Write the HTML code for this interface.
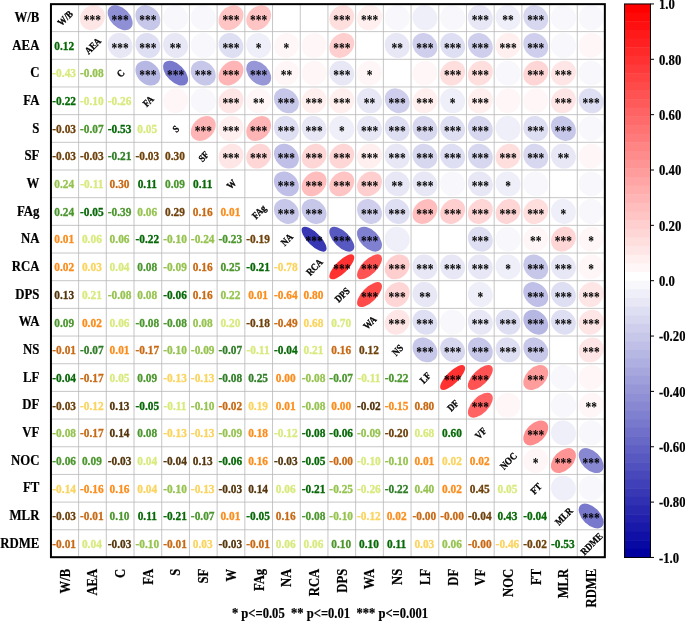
<!DOCTYPE html>
<html><head><meta charset="utf-8"><title>Correlation plot</title>
<style>
html,body{margin:0;padding:0;background:#fff;}
svg{display:block;will-change:transform;}
text{font-family:"Liberation Serif",serif;font-weight:bold;}
.n{font-size:13px;text-anchor:middle;stroke-width:0.3px;}
.s{font-size:14px;text-anchor:middle;fill:#000;}
.d{font-size:10px;text-anchor:middle;fill:#000;stroke:#000;stroke-width:0.3px;}
.yl{font-size:14px;text-anchor:end;fill:#000;stroke:#000;stroke-width:0.2px;}
.xl{font-size:14px;text-anchor:end;fill:#000;stroke:#000;stroke-width:0.2px;}
.cb{font-size:13.7px;text-anchor:start;fill:#000;stroke:#000;stroke-width:0.2px;}
</style></head><body>
<svg width="685" height="621" viewBox="0 0 685 621">
<rect x="0" y="0" width="685" height="621" fill="#fff"/>
<path d="M78.61 3.95V557.45M50.9 31.62H605.0M106.31 3.95V557.45M50.9 59.30H605.0M134.02 3.95V557.45M50.9 86.98H605.0M161.72 3.95V557.45M50.9 114.65H605.0M189.43 3.95V557.45M50.9 142.32H605.0M217.13 3.95V557.45M50.9 170.00H605.0M244.84 3.95V557.45M50.9 197.67H605.0M272.54 3.95V557.45M50.9 225.35H605.0M300.25 3.95V557.45M50.9 253.03H605.0M327.95 3.95V557.45M50.9 280.70H605.0M355.65 3.95V557.45M50.9 308.38H605.0M383.36 3.95V557.45M50.9 336.05H605.0M411.06 3.95V557.45M50.9 363.73H605.0M438.77 3.95V557.45M50.9 391.40H605.0M466.48 3.95V557.45M50.9 419.07H605.0M494.18 3.95V557.45M50.9 446.75H605.0M521.88 3.95V557.45M50.9 474.43H605.0M549.59 3.95V557.45M50.9 502.10H605.0M577.29 3.95V557.45M50.9 529.78H605.0" stroke="#b8b8b8" stroke-width="0.8" fill="none"/>
<ellipse cx="92.46" cy="17.79" rx="13.14" ry="11.72" fill="rgb(255,230,230)" transform="rotate(-45 92.46 17.79)"/>
<text class="s" transform="translate(92.46 24.99) scale(0.82 1)">***</text>
<ellipse cx="120.16" cy="17.79" rx="9.58" ry="14.78" fill="rgb(143,143,213)" transform="rotate(-45 120.16 17.79)"/>
<text class="s" transform="translate(120.16 24.99) scale(0.82 1)">***</text>
<ellipse cx="147.87" cy="17.79" rx="11.07" ry="13.69" fill="rgb(199,199,234)" transform="rotate(-45 147.87 17.79)"/>
<text class="s" transform="translate(147.87 24.99) scale(0.82 1)">***</text>
<ellipse cx="175.57" cy="17.79" rx="12.27" ry="12.63" fill="rgb(247,247,252)" transform="rotate(-45 175.57 17.79)"/>
<ellipse cx="203.28" cy="17.79" rx="12.27" ry="12.63" fill="rgb(247,247,252)" transform="rotate(-45 203.28 17.79)"/>
<ellipse cx="230.98" cy="17.79" rx="13.80" ry="10.94" fill="rgb(255,197,197)" transform="rotate(-45 230.98 17.79)"/>
<text class="s" transform="translate(230.98 24.99) scale(0.82 1)">***</text>
<ellipse cx="258.69" cy="17.79" rx="13.80" ry="10.94" fill="rgb(255,197,197)" transform="rotate(-45 258.69 17.79)"/>
<text class="s" transform="translate(258.69 24.99) scale(0.82 1)">***</text>
<ellipse cx="286.39" cy="17.79" rx="12.51" ry="12.39" fill="rgb(255,255,255)" transform="rotate(-45 286.39 17.79)"/>
<ellipse cx="314.10" cy="17.79" rx="12.57" ry="12.33" fill="rgb(255,255,255)" transform="rotate(-45 314.10 17.79)"/>
<ellipse cx="341.80" cy="17.79" rx="13.20" ry="11.66" fill="rgb(255,222,222)" transform="rotate(-45 341.80 17.79)"/>
<text class="s" transform="translate(341.80 24.99) scale(0.82 1)">***</text>
<ellipse cx="369.51" cy="17.79" rx="12.97" ry="11.91" fill="rgb(255,239,239)" transform="rotate(-45 369.51 17.79)"/>
<text class="s" transform="translate(369.51 24.99) scale(0.82 1)">***</text>
<ellipse cx="397.21" cy="17.79" rx="12.39" ry="12.51" fill="rgb(247,247,252)" transform="rotate(-45 397.21 17.79)"/>
<ellipse cx="424.92" cy="17.79" rx="12.21" ry="12.68" fill="rgb(239,239,249)" transform="rotate(-45 424.92 17.79)"/>
<ellipse cx="452.62" cy="17.79" rx="12.27" ry="12.63" fill="rgb(247,247,252)" transform="rotate(-45 452.62 17.79)"/>
<ellipse cx="480.33" cy="17.79" rx="11.97" ry="12.91" fill="rgb(231,231,246)" transform="rotate(-45 480.33 17.79)"/>
<text class="s" transform="translate(480.33 24.99) scale(0.82 1)">***</text>
<ellipse cx="508.03" cy="17.79" rx="12.09" ry="12.80" fill="rgb(239,239,249)" transform="rotate(-45 508.03 17.79)"/>
<text class="s" transform="translate(508.03 24.99) scale(0.82 1)">**</text>
<ellipse cx="535.74" cy="17.79" rx="11.59" ry="13.25" fill="rgb(215,215,240)" transform="rotate(-45 535.74 17.79)"/>
<text class="s" transform="translate(535.74 24.99) scale(0.82 1)">***</text>
<ellipse cx="563.44" cy="17.79" rx="12.27" ry="12.63" fill="rgb(247,247,252)" transform="rotate(-45 563.44 17.79)"/>
<ellipse cx="591.15" cy="17.79" rx="12.39" ry="12.51" fill="rgb(247,247,252)" transform="rotate(-45 591.15 17.79)"/>
<ellipse cx="120.16" cy="45.46" rx="11.97" ry="12.91" fill="rgb(231,231,246)" transform="rotate(-45 120.16 45.46)"/>
<text class="s" transform="translate(120.16 52.66) scale(0.82 1)">***</text>
<ellipse cx="147.87" cy="45.46" rx="11.84" ry="13.03" fill="rgb(223,223,243)" transform="rotate(-45 147.87 45.46)"/>
<text class="s" transform="translate(147.87 52.66) scale(0.82 1)">***</text>
<ellipse cx="175.57" cy="45.46" rx="12.03" ry="12.86" fill="rgb(231,231,246)" transform="rotate(-45 175.57 45.46)"/>
<text class="s" transform="translate(175.57 52.66) scale(0.82 1)">**</text>
<ellipse cx="203.28" cy="45.46" rx="12.27" ry="12.63" fill="rgb(247,247,252)" transform="rotate(-45 203.28 45.46)"/>
<ellipse cx="230.98" cy="45.46" rx="11.78" ry="13.08" fill="rgb(223,223,243)" transform="rotate(-45 230.98 45.46)"/>
<text class="s" transform="translate(230.98 52.66) scale(0.82 1)">***</text>
<ellipse cx="258.69" cy="45.46" rx="12.15" ry="12.74" fill="rgb(239,239,249)" transform="rotate(-45 258.69 45.46)"/>
<text class="s" transform="translate(258.69 52.66) scale(0.82 1)">*</text>
<ellipse cx="286.39" cy="45.46" rx="12.80" ry="12.09" fill="rgb(255,247,247)" transform="rotate(-45 286.39 45.46)"/>
<text class="s" transform="translate(286.39 52.66) scale(0.82 1)">*</text>
<ellipse cx="314.10" cy="45.46" rx="12.63" ry="12.27" fill="rgb(255,247,247)" transform="rotate(-45 314.10 45.46)"/>
<ellipse cx="341.80" cy="45.46" rx="13.64" ry="11.14" fill="rgb(255,206,206)" transform="rotate(-45 341.80 45.46)"/>
<text class="s" transform="translate(341.80 52.66) scale(0.82 1)">***</text>
<ellipse cx="369.51" cy="45.46" rx="12.57" ry="12.33" fill="rgb(255,255,255)" transform="rotate(-45 369.51 45.46)"/>
<ellipse cx="397.21" cy="45.46" rx="12.03" ry="12.86" fill="rgb(231,231,246)" transform="rotate(-45 397.21 45.46)"/>
<text class="s" transform="translate(397.21 52.66) scale(0.82 1)">**</text>
<ellipse cx="424.92" cy="45.46" rx="11.40" ry="13.42" fill="rgb(207,207,237)" transform="rotate(-45 424.92 45.46)"/>
<text class="s" transform="translate(424.92 52.66) scale(0.82 1)">***</text>
<ellipse cx="452.62" cy="45.46" rx="11.72" ry="13.14" fill="rgb(223,223,243)" transform="rotate(-45 452.62 45.46)"/>
<text class="s" transform="translate(452.62 52.66) scale(0.82 1)">***</text>
<ellipse cx="480.33" cy="45.46" rx="11.40" ry="13.42" fill="rgb(207,207,237)" transform="rotate(-45 480.33 45.46)"/>
<text class="s" transform="translate(480.33 52.66) scale(0.82 1)">***</text>
<ellipse cx="508.03" cy="45.46" rx="12.97" ry="11.91" fill="rgb(255,239,239)" transform="rotate(-45 508.03 45.46)"/>
<text class="s" transform="translate(508.03 52.66) scale(0.82 1)">***</text>
<ellipse cx="535.74" cy="45.46" rx="11.46" ry="13.36" fill="rgb(207,207,237)" transform="rotate(-45 535.74 45.46)"/>
<text class="s" transform="translate(535.74 52.66) scale(0.82 1)">***</text>
<ellipse cx="563.44" cy="45.46" rx="12.39" ry="12.51" fill="rgb(247,247,252)" transform="rotate(-45 563.44 45.46)"/>
<ellipse cx="591.15" cy="45.46" rx="12.68" ry="12.21" fill="rgb(255,247,247)" transform="rotate(-45 591.15 45.46)"/>
<ellipse cx="147.87" cy="73.14" rx="10.80" ry="13.90" fill="rgb(183,183,228)" transform="rotate(-45 147.87 73.14)"/>
<text class="s" transform="translate(147.87 80.34) scale(0.82 1)">***</text>
<ellipse cx="175.57" cy="73.14" rx="8.77" ry="15.27" fill="rgb(120,120,205)" transform="rotate(-45 175.57 73.14)"/>
<text class="s" transform="translate(175.57 80.34) scale(0.82 1)">***</text>
<ellipse cx="203.28" cy="73.14" rx="11.14" ry="13.64" fill="rgb(199,199,234)" transform="rotate(-45 203.28 73.14)"/>
<text class="s" transform="translate(203.28 80.34) scale(0.82 1)">***</text>
<ellipse cx="230.98" cy="73.14" rx="14.11" ry="10.53" fill="rgb(255,181,181)" transform="rotate(-45 230.98 73.14)"/>
<text class="s" transform="translate(230.98 80.34) scale(0.82 1)">***</text>
<ellipse cx="258.69" cy="73.14" rx="9.88" ry="14.58" fill="rgb(151,151,216)" transform="rotate(-45 258.69 73.14)"/>
<text class="s" transform="translate(258.69 80.34) scale(0.82 1)">***</text>
<ellipse cx="286.39" cy="73.14" rx="12.80" ry="12.09" fill="rgb(255,247,247)" transform="rotate(-45 286.39 73.14)"/>
<text class="s" transform="translate(286.39 80.34) scale(0.82 1)">**</text>
<ellipse cx="314.10" cy="73.14" rx="12.68" ry="12.21" fill="rgb(255,247,247)" transform="rotate(-45 314.10 73.14)"/>
<ellipse cx="341.80" cy="73.14" rx="11.97" ry="12.91" fill="rgb(231,231,246)" transform="rotate(-45 341.80 73.14)"/>
<text class="s" transform="translate(341.80 80.34) scale(0.82 1)">***</text>
<ellipse cx="369.51" cy="73.14" rx="12.80" ry="12.09" fill="rgb(255,247,247)" transform="rotate(-45 369.51 73.14)"/>
<text class="s" transform="translate(369.51 80.34) scale(0.82 1)">*</text>
<ellipse cx="397.21" cy="73.14" rx="12.51" ry="12.39" fill="rgb(255,255,255)" transform="rotate(-45 397.21 73.14)"/>
<ellipse cx="424.92" cy="73.14" rx="12.74" ry="12.15" fill="rgb(255,247,247)" transform="rotate(-45 424.92 73.14)"/>
<ellipse cx="452.62" cy="73.14" rx="13.20" ry="11.66" fill="rgb(255,222,222)" transform="rotate(-45 452.62 73.14)"/>
<text class="s" transform="translate(452.62 80.34) scale(0.82 1)">***</text>
<ellipse cx="480.33" cy="73.14" rx="13.25" ry="11.59" fill="rgb(255,222,222)" transform="rotate(-45 480.33 73.14)"/>
<text class="s" transform="translate(480.33 80.34) scale(0.82 1)">***</text>
<ellipse cx="508.03" cy="73.14" rx="12.27" ry="12.63" fill="rgb(247,247,252)" transform="rotate(-45 508.03 73.14)"/>
<ellipse cx="535.74" cy="73.14" rx="13.36" ry="11.46" fill="rgb(255,214,214)" transform="rotate(-45 535.74 73.14)"/>
<text class="s" transform="translate(535.74 80.34) scale(0.82 1)">***</text>
<ellipse cx="563.44" cy="73.14" rx="13.03" ry="11.84" fill="rgb(255,230,230)" transform="rotate(-45 563.44 73.14)"/>
<text class="s" transform="translate(563.44 80.34) scale(0.82 1)">***</text>
<ellipse cx="591.15" cy="73.14" rx="12.27" ry="12.63" fill="rgb(247,247,252)" transform="rotate(-45 591.15 73.14)"/>
<ellipse cx="175.57" cy="100.81" rx="12.74" ry="12.15" fill="rgb(255,247,247)" transform="rotate(-45 175.57 100.81)"/>
<ellipse cx="203.28" cy="100.81" rx="12.27" ry="12.63" fill="rgb(247,247,252)" transform="rotate(-45 203.28 100.81)"/>
<ellipse cx="230.98" cy="100.81" rx="13.08" ry="11.78" fill="rgb(255,230,230)" transform="rotate(-45 230.98 100.81)"/>
<text class="s" transform="translate(230.98 108.01) scale(0.82 1)">***</text>
<ellipse cx="258.69" cy="100.81" rx="12.80" ry="12.09" fill="rgb(255,247,247)" transform="rotate(-45 258.69 100.81)"/>
<text class="s" transform="translate(258.69 108.01) scale(0.82 1)">**</text>
<ellipse cx="286.39" cy="100.81" rx="11.07" ry="13.69" fill="rgb(199,199,234)" transform="rotate(-45 286.39 100.81)"/>
<text class="s" transform="translate(286.39 108.01) scale(0.82 1)">***</text>
<ellipse cx="314.10" cy="100.81" rx="12.91" ry="11.97" fill="rgb(255,239,239)" transform="rotate(-45 314.10 100.81)"/>
<text class="s" transform="translate(314.10 108.01) scale(0.82 1)">***</text>
<ellipse cx="341.80" cy="100.81" rx="12.91" ry="11.97" fill="rgb(255,239,239)" transform="rotate(-45 341.80 100.81)"/>
<text class="s" transform="translate(341.80 108.01) scale(0.82 1)">***</text>
<ellipse cx="369.51" cy="100.81" rx="11.97" ry="12.91" fill="rgb(231,231,246)" transform="rotate(-45 369.51 100.81)"/>
<text class="s" transform="translate(369.51 108.01) scale(0.82 1)">**</text>
<ellipse cx="397.21" cy="100.81" rx="11.40" ry="13.42" fill="rgb(207,207,237)" transform="rotate(-45 397.21 100.81)"/>
<text class="s" transform="translate(397.21 108.01) scale(0.82 1)">***</text>
<ellipse cx="424.92" cy="100.81" rx="12.97" ry="11.91" fill="rgb(255,239,239)" transform="rotate(-45 424.92 100.81)"/>
<text class="s" transform="translate(424.92 108.01) scale(0.82 1)">***</text>
<ellipse cx="452.62" cy="100.81" rx="12.15" ry="12.74" fill="rgb(239,239,249)" transform="rotate(-45 452.62 100.81)"/>
<text class="s" transform="translate(452.62 108.01) scale(0.82 1)">*</text>
<ellipse cx="480.33" cy="100.81" rx="12.91" ry="11.97" fill="rgb(255,239,239)" transform="rotate(-45 480.33 100.81)"/>
<text class="s" transform="translate(480.33 108.01) scale(0.82 1)">***</text>
<ellipse cx="508.03" cy="100.81" rx="12.68" ry="12.21" fill="rgb(255,247,247)" transform="rotate(-45 508.03 100.81)"/>
<ellipse cx="535.74" cy="100.81" rx="12.68" ry="12.21" fill="rgb(255,247,247)" transform="rotate(-45 535.74 100.81)"/>
<ellipse cx="563.44" cy="100.81" rx="13.08" ry="11.78" fill="rgb(255,230,230)" transform="rotate(-45 563.44 100.81)"/>
<text class="s" transform="translate(563.44 108.01) scale(0.82 1)">***</text>
<ellipse cx="591.15" cy="100.81" rx="11.84" ry="13.03" fill="rgb(223,223,243)" transform="rotate(-45 591.15 100.81)"/>
<text class="s" transform="translate(591.15 108.01) scale(0.82 1)">***</text>
<ellipse cx="203.28" cy="128.49" rx="14.11" ry="10.53" fill="rgb(255,181,181)" transform="rotate(-45 203.28 128.49)"/>
<text class="s" transform="translate(203.28 135.69) scale(0.82 1)">***</text>
<ellipse cx="230.98" cy="128.49" rx="12.97" ry="11.91" fill="rgb(255,239,239)" transform="rotate(-45 230.98 128.49)"/>
<text class="s" transform="translate(230.98 135.69) scale(0.82 1)">***</text>
<ellipse cx="258.69" cy="128.49" rx="14.06" ry="10.60" fill="rgb(255,181,181)" transform="rotate(-45 258.69 128.49)"/>
<text class="s" transform="translate(258.69 135.69) scale(0.82 1)">***</text>
<ellipse cx="286.39" cy="128.49" rx="11.84" ry="13.03" fill="rgb(223,223,243)" transform="rotate(-45 286.39 128.49)"/>
<text class="s" transform="translate(286.39 135.69) scale(0.82 1)">***</text>
<ellipse cx="314.10" cy="128.49" rx="11.91" ry="12.97" fill="rgb(231,231,246)" transform="rotate(-45 314.10 128.49)"/>
<text class="s" transform="translate(314.10 135.69) scale(0.82 1)">***</text>
<ellipse cx="341.80" cy="128.49" rx="12.09" ry="12.80" fill="rgb(239,239,249)" transform="rotate(-45 341.80 128.49)"/>
<text class="s" transform="translate(341.80 135.69) scale(0.82 1)">*</text>
<ellipse cx="369.51" cy="128.49" rx="11.97" ry="12.91" fill="rgb(231,231,246)" transform="rotate(-45 369.51 128.49)"/>
<text class="s" transform="translate(369.51 135.69) scale(0.82 1)">***</text>
<ellipse cx="397.21" cy="128.49" rx="11.84" ry="13.03" fill="rgb(223,223,243)" transform="rotate(-45 397.21 128.49)"/>
<text class="s" transform="translate(397.21 135.69) scale(0.82 1)">***</text>
<ellipse cx="424.92" cy="128.49" rx="11.66" ry="13.20" fill="rgb(215,215,240)" transform="rotate(-45 424.92 128.49)"/>
<text class="s" transform="translate(424.92 135.69) scale(0.82 1)">***</text>
<ellipse cx="452.62" cy="128.49" rx="11.78" ry="13.08" fill="rgb(223,223,243)" transform="rotate(-45 452.62 128.49)"/>
<text class="s" transform="translate(452.62 135.69) scale(0.82 1)">***</text>
<ellipse cx="480.33" cy="128.49" rx="11.66" ry="13.20" fill="rgb(215,215,240)" transform="rotate(-45 480.33 128.49)"/>
<text class="s" transform="translate(480.33 135.69) scale(0.82 1)">***</text>
<ellipse cx="508.03" cy="128.49" rx="12.21" ry="12.68" fill="rgb(239,239,249)" transform="rotate(-45 508.03 128.49)"/>
<ellipse cx="535.74" cy="128.49" rx="11.84" ry="13.03" fill="rgb(223,223,243)" transform="rotate(-45 535.74 128.49)"/>
<text class="s" transform="translate(535.74 135.69) scale(0.82 1)">***</text>
<ellipse cx="563.44" cy="128.49" rx="11.14" ry="13.64" fill="rgb(199,199,234)" transform="rotate(-45 563.44 128.49)"/>
<text class="s" transform="translate(563.44 135.69) scale(0.82 1)">***</text>
<ellipse cx="591.15" cy="128.49" rx="12.39" ry="12.51" fill="rgb(247,247,252)" transform="rotate(-45 591.15 128.49)"/>
<ellipse cx="230.98" cy="156.16" rx="13.08" ry="11.78" fill="rgb(255,230,230)" transform="rotate(-45 230.98 156.16)"/>
<text class="s" transform="translate(230.98 163.36) scale(0.82 1)">***</text>
<ellipse cx="258.69" cy="156.16" rx="13.36" ry="11.46" fill="rgb(255,214,214)" transform="rotate(-45 258.69 156.16)"/>
<text class="s" transform="translate(258.69 163.36) scale(0.82 1)">***</text>
<ellipse cx="286.39" cy="156.16" rx="10.94" ry="13.80" fill="rgb(191,191,231)" transform="rotate(-45 286.39 156.16)"/>
<text class="s" transform="translate(286.39 163.36) scale(0.82 1)">***</text>
<ellipse cx="314.10" cy="156.16" rx="13.36" ry="11.46" fill="rgb(255,214,214)" transform="rotate(-45 314.10 156.16)"/>
<text class="s" transform="translate(314.10 163.36) scale(0.82 1)">***</text>
<ellipse cx="341.80" cy="156.16" rx="13.36" ry="11.46" fill="rgb(255,214,214)" transform="rotate(-45 341.80 156.16)"/>
<text class="s" transform="translate(341.80 163.36) scale(0.82 1)">***</text>
<ellipse cx="369.51" cy="156.16" rx="12.91" ry="11.97" fill="rgb(255,239,239)" transform="rotate(-45 369.51 156.16)"/>
<text class="s" transform="translate(369.51 163.36) scale(0.82 1)">***</text>
<ellipse cx="397.21" cy="156.16" rx="11.91" ry="12.97" fill="rgb(231,231,246)" transform="rotate(-45 397.21 156.16)"/>
<text class="s" transform="translate(397.21 163.36) scale(0.82 1)">***</text>
<ellipse cx="424.92" cy="156.16" rx="11.66" ry="13.20" fill="rgb(215,215,240)" transform="rotate(-45 424.92 156.16)"/>
<text class="s" transform="translate(424.92 163.36) scale(0.82 1)">***</text>
<ellipse cx="452.62" cy="156.16" rx="11.84" ry="13.03" fill="rgb(223,223,243)" transform="rotate(-45 452.62 156.16)"/>
<text class="s" transform="translate(452.62 163.36) scale(0.82 1)">***</text>
<ellipse cx="480.33" cy="156.16" rx="11.66" ry="13.20" fill="rgb(215,215,240)" transform="rotate(-45 480.33 156.16)"/>
<text class="s" transform="translate(480.33 163.36) scale(0.82 1)">***</text>
<ellipse cx="508.03" cy="156.16" rx="13.20" ry="11.66" fill="rgb(255,222,222)" transform="rotate(-45 508.03 156.16)"/>
<text class="s" transform="translate(508.03 163.36) scale(0.82 1)">***</text>
<ellipse cx="535.74" cy="156.16" rx="11.66" ry="13.20" fill="rgb(215,215,240)" transform="rotate(-45 535.74 156.16)"/>
<text class="s" transform="translate(535.74 163.36) scale(0.82 1)">***</text>
<ellipse cx="563.44" cy="156.16" rx="12.03" ry="12.86" fill="rgb(231,231,246)" transform="rotate(-45 563.44 156.16)"/>
<text class="s" transform="translate(563.44 163.36) scale(0.82 1)">**</text>
<ellipse cx="591.15" cy="156.16" rx="12.63" ry="12.27" fill="rgb(255,247,247)" transform="rotate(-45 591.15 156.16)"/>
<ellipse cx="258.69" cy="183.84" rx="12.51" ry="12.39" fill="rgb(255,255,255)" transform="rotate(-45 258.69 183.84)"/>
<ellipse cx="286.39" cy="183.84" rx="11.01" ry="13.74" fill="rgb(191,191,231)" transform="rotate(-45 286.39 183.84)"/>
<text class="s" transform="translate(286.39 191.04) scale(0.82 1)">***</text>
<ellipse cx="314.10" cy="183.84" rx="13.85" ry="10.87" fill="rgb(255,189,189)" transform="rotate(-45 314.10 183.84)"/>
<text class="s" transform="translate(314.10 191.04) scale(0.82 1)">***</text>
<ellipse cx="341.80" cy="183.84" rx="13.69" ry="11.07" fill="rgb(255,197,197)" transform="rotate(-45 341.80 183.84)"/>
<text class="s" transform="translate(341.80 191.04) scale(0.82 1)">***</text>
<ellipse cx="369.51" cy="183.84" rx="13.58" ry="11.21" fill="rgb(255,206,206)" transform="rotate(-45 369.51 183.84)"/>
<text class="s" transform="translate(369.51 191.04) scale(0.82 1)">***</text>
<ellipse cx="397.21" cy="183.84" rx="12.03" ry="12.86" fill="rgb(231,231,246)" transform="rotate(-45 397.21 183.84)"/>
<text class="s" transform="translate(397.21 191.04) scale(0.82 1)">**</text>
<ellipse cx="424.92" cy="183.84" rx="11.97" ry="12.91" fill="rgb(231,231,246)" transform="rotate(-45 424.92 183.84)"/>
<text class="s" transform="translate(424.92 191.04) scale(0.82 1)">***</text>
<ellipse cx="452.62" cy="183.84" rx="12.33" ry="12.57" fill="rgb(247,247,252)" transform="rotate(-45 452.62 183.84)"/>
<ellipse cx="480.33" cy="183.84" rx="11.91" ry="12.97" fill="rgb(231,231,246)" transform="rotate(-45 480.33 183.84)"/>
<text class="s" transform="translate(480.33 191.04) scale(0.82 1)">***</text>
<ellipse cx="508.03" cy="183.84" rx="12.09" ry="12.80" fill="rgb(239,239,249)" transform="rotate(-45 508.03 183.84)"/>
<text class="s" transform="translate(508.03 191.04) scale(0.82 1)">*</text>
<ellipse cx="535.74" cy="183.84" rx="12.27" ry="12.63" fill="rgb(247,247,252)" transform="rotate(-45 535.74 183.84)"/>
<ellipse cx="563.44" cy="183.84" rx="12.51" ry="12.39" fill="rgb(255,255,255)" transform="rotate(-45 563.44 183.84)"/>
<ellipse cx="591.15" cy="183.84" rx="12.27" ry="12.63" fill="rgb(247,247,252)" transform="rotate(-45 591.15 183.84)"/>
<ellipse cx="286.39" cy="211.51" rx="11.27" ry="13.53" fill="rgb(199,199,234)" transform="rotate(-45 286.39 211.51)"/>
<text class="s" transform="translate(286.39 218.71) scale(0.82 1)">***</text>
<ellipse cx="314.10" cy="211.51" rx="11.14" ry="13.64" fill="rgb(199,199,234)" transform="rotate(-45 314.10 211.51)"/>
<text class="s" transform="translate(314.10 218.71) scale(0.82 1)">***</text>
<ellipse cx="341.80" cy="211.51" rx="12.51" ry="12.39" fill="rgb(255,255,255)" transform="rotate(-45 341.80 211.51)"/>
<ellipse cx="369.51" cy="211.51" rx="11.34" ry="13.47" fill="rgb(207,207,237)" transform="rotate(-45 369.51 211.51)"/>
<text class="s" transform="translate(369.51 218.71) scale(0.82 1)">***</text>
<ellipse cx="397.21" cy="211.51" rx="11.78" ry="13.08" fill="rgb(223,223,243)" transform="rotate(-45 397.21 211.51)"/>
<text class="s" transform="translate(397.21 218.71) scale(0.82 1)">***</text>
<ellipse cx="424.92" cy="211.51" rx="13.85" ry="10.87" fill="rgb(255,189,189)" transform="rotate(-45 424.92 211.51)"/>
<text class="s" transform="translate(424.92 218.71) scale(0.82 1)">***</text>
<ellipse cx="452.62" cy="211.51" rx="13.53" ry="11.27" fill="rgb(255,206,206)" transform="rotate(-45 452.62 211.51)"/>
<text class="s" transform="translate(452.62 218.71) scale(0.82 1)">***</text>
<ellipse cx="480.33" cy="211.51" rx="13.47" ry="11.34" fill="rgb(255,214,214)" transform="rotate(-45 480.33 211.51)"/>
<text class="s" transform="translate(480.33 218.71) scale(0.82 1)">***</text>
<ellipse cx="508.03" cy="211.51" rx="13.36" ry="11.46" fill="rgb(255,214,214)" transform="rotate(-45 508.03 211.51)"/>
<text class="s" transform="translate(508.03 218.71) scale(0.82 1)">***</text>
<ellipse cx="535.74" cy="211.51" rx="13.25" ry="11.59" fill="rgb(255,222,222)" transform="rotate(-45 535.74 211.51)"/>
<text class="s" transform="translate(535.74 218.71) scale(0.82 1)">***</text>
<ellipse cx="563.44" cy="211.51" rx="12.15" ry="12.74" fill="rgb(239,239,249)" transform="rotate(-45 563.44 211.51)"/>
<text class="s" transform="translate(563.44 218.71) scale(0.82 1)">*</text>
<ellipse cx="591.15" cy="211.51" rx="12.39" ry="12.51" fill="rgb(247,247,252)" transform="rotate(-45 591.15 211.51)"/>
<ellipse cx="314.10" cy="239.19" rx="6.34" ry="16.43" fill="rgb(56,56,181)" transform="rotate(-45 314.10 239.19)"/>
<text class="s" transform="translate(314.10 246.39) scale(0.82 1)">***</text>
<ellipse cx="341.80" cy="239.19" rx="7.79" ry="15.79" fill="rgb(88,88,193)" transform="rotate(-45 341.80 239.19)"/>
<text class="s" transform="translate(341.80 246.39) scale(0.82 1)">***</text>
<ellipse cx="369.51" cy="239.19" rx="9.10" ry="15.07" fill="rgb(128,128,208)" transform="rotate(-45 369.51 239.19)"/>
<text class="s" transform="translate(369.51 246.39) scale(0.82 1)">***</text>
<ellipse cx="397.21" cy="239.19" rx="12.21" ry="12.68" fill="rgb(239,239,249)" transform="rotate(-45 397.21 239.19)"/>
<ellipse cx="424.92" cy="239.19" rx="12.45" ry="12.45" fill="rgb(255,255,255)" transform="rotate(-45 424.92 239.19)"/>
<ellipse cx="452.62" cy="239.19" rx="12.51" ry="12.39" fill="rgb(255,255,255)" transform="rotate(-45 452.62 239.19)"/>
<ellipse cx="480.33" cy="239.19" rx="11.72" ry="13.14" fill="rgb(223,223,243)" transform="rotate(-45 480.33 239.19)"/>
<text class="s" transform="translate(480.33 246.39) scale(0.82 1)">***</text>
<ellipse cx="508.03" cy="239.19" rx="12.27" ry="12.63" fill="rgb(247,247,252)" transform="rotate(-45 508.03 239.19)"/>
<ellipse cx="535.74" cy="239.19" rx="12.80" ry="12.09" fill="rgb(255,247,247)" transform="rotate(-45 535.74 239.19)"/>
<text class="s" transform="translate(535.74 246.39) scale(0.82 1)">**</text>
<ellipse cx="563.44" cy="239.19" rx="13.36" ry="11.46" fill="rgb(255,214,214)" transform="rotate(-45 563.44 239.19)"/>
<text class="s" transform="translate(563.44 246.39) scale(0.82 1)">***</text>
<ellipse cx="591.15" cy="239.19" rx="12.80" ry="12.09" fill="rgb(255,247,247)" transform="rotate(-45 591.15 239.19)"/>
<text class="s" transform="translate(591.15 246.39) scale(0.82 1)">*</text>
<ellipse cx="341.80" cy="266.86" rx="16.52" ry="6.10" fill="rgb(255,49,49)" transform="rotate(-45 341.80 266.86)"/>
<text class="s" transform="translate(341.80 274.06) scale(0.82 1)">***</text>
<ellipse cx="369.51" cy="266.86" rx="15.97" ry="7.41" fill="rgb(255,82,82)" transform="rotate(-45 369.51 266.86)"/>
<text class="s" transform="translate(369.51 274.06) scale(0.82 1)">***</text>
<ellipse cx="397.21" cy="266.86" rx="13.64" ry="11.14" fill="rgb(255,206,206)" transform="rotate(-45 397.21 266.86)"/>
<text class="s" transform="translate(397.21 274.06) scale(0.82 1)">***</text>
<ellipse cx="424.92" cy="266.86" rx="11.97" ry="12.91" fill="rgb(231,231,246)" transform="rotate(-45 424.92 266.86)"/>
<text class="s" transform="translate(424.92 274.06) scale(0.82 1)">***</text>
<ellipse cx="452.62" cy="266.86" rx="11.97" ry="12.91" fill="rgb(231,231,246)" transform="rotate(-45 452.62 266.86)"/>
<text class="s" transform="translate(452.62 274.06) scale(0.82 1)">***</text>
<ellipse cx="480.33" cy="266.86" rx="11.97" ry="12.91" fill="rgb(231,231,246)" transform="rotate(-45 480.33 266.86)"/>
<text class="s" transform="translate(480.33 274.06) scale(0.82 1)">***</text>
<ellipse cx="508.03" cy="266.86" rx="12.15" ry="12.74" fill="rgb(239,239,249)" transform="rotate(-45 508.03 266.86)"/>
<text class="s" transform="translate(508.03 274.06) scale(0.82 1)">*</text>
<ellipse cx="535.74" cy="266.86" rx="11.14" ry="13.64" fill="rgb(199,199,234)" transform="rotate(-45 535.74 266.86)"/>
<text class="s" transform="translate(535.74 274.06) scale(0.82 1)">***</text>
<ellipse cx="563.44" cy="266.86" rx="11.97" ry="12.91" fill="rgb(231,231,246)" transform="rotate(-45 563.44 266.86)"/>
<text class="s" transform="translate(563.44 274.06) scale(0.82 1)">***</text>
<ellipse cx="591.15" cy="266.86" rx="12.80" ry="12.09" fill="rgb(255,247,247)" transform="rotate(-45 591.15 266.86)"/>
<text class="s" transform="translate(591.15 274.06) scale(0.82 1)">*</text>
<ellipse cx="369.51" cy="294.54" rx="16.06" ry="7.21" fill="rgb(255,74,74)" transform="rotate(-45 369.51 294.54)"/>
<text class="s" transform="translate(369.51 301.74) scale(0.82 1)">***</text>
<ellipse cx="397.21" cy="294.54" rx="13.36" ry="11.46" fill="rgb(255,214,214)" transform="rotate(-45 397.21 294.54)"/>
<text class="s" transform="translate(397.21 301.74) scale(0.82 1)">***</text>
<ellipse cx="424.92" cy="294.54" rx="12.03" ry="12.86" fill="rgb(231,231,246)" transform="rotate(-45 424.92 294.54)"/>
<text class="s" transform="translate(424.92 301.74) scale(0.82 1)">**</text>
<ellipse cx="452.62" cy="294.54" rx="12.45" ry="12.45" fill="rgb(255,255,255)" transform="rotate(-45 452.62 294.54)"/>
<ellipse cx="480.33" cy="294.54" rx="12.09" ry="12.80" fill="rgb(239,239,249)" transform="rotate(-45 480.33 294.54)"/>
<text class="s" transform="translate(480.33 301.74) scale(0.82 1)">*</text>
<ellipse cx="508.03" cy="294.54" rx="12.45" ry="12.45" fill="rgb(255,255,255)" transform="rotate(-45 508.03 294.54)"/>
<ellipse cx="535.74" cy="294.54" rx="10.87" ry="13.85" fill="rgb(191,191,231)" transform="rotate(-45 535.74 294.54)"/>
<text class="s" transform="translate(535.74 301.74) scale(0.82 1)">***</text>
<ellipse cx="563.44" cy="294.54" rx="11.84" ry="13.03" fill="rgb(223,223,243)" transform="rotate(-45 563.44 294.54)"/>
<text class="s" transform="translate(563.44 301.74) scale(0.82 1)">***</text>
<ellipse cx="591.15" cy="294.54" rx="13.03" ry="11.84" fill="rgb(255,230,230)" transform="rotate(-45 591.15 294.54)"/>
<text class="s" transform="translate(591.15 301.74) scale(0.82 1)">***</text>
<ellipse cx="397.21" cy="322.21" rx="13.14" ry="11.72" fill="rgb(255,230,230)" transform="rotate(-45 397.21 322.21)"/>
<text class="s" transform="translate(397.21 329.41) scale(0.82 1)">***</text>
<ellipse cx="424.92" cy="322.21" rx="11.78" ry="13.08" fill="rgb(223,223,243)" transform="rotate(-45 424.92 322.21)"/>
<text class="s" transform="translate(424.92 329.41) scale(0.82 1)">***</text>
<ellipse cx="452.62" cy="322.21" rx="12.33" ry="12.57" fill="rgb(247,247,252)" transform="rotate(-45 452.62 322.21)"/>
<ellipse cx="480.33" cy="322.21" rx="11.91" ry="12.97" fill="rgb(231,231,246)" transform="rotate(-45 480.33 322.21)"/>
<text class="s" transform="translate(480.33 329.41) scale(0.82 1)">***</text>
<ellipse cx="508.03" cy="322.21" rx="11.84" ry="13.03" fill="rgb(223,223,243)" transform="rotate(-45 508.03 322.21)"/>
<text class="s" transform="translate(508.03 329.41) scale(0.82 1)">***</text>
<ellipse cx="535.74" cy="322.21" rx="10.80" ry="13.90" fill="rgb(183,183,228)" transform="rotate(-45 535.74 322.21)"/>
<text class="s" transform="translate(535.74 329.41) scale(0.82 1)">***</text>
<ellipse cx="563.44" cy="322.21" rx="11.72" ry="13.14" fill="rgb(223,223,243)" transform="rotate(-45 563.44 322.21)"/>
<text class="s" transform="translate(563.44 329.41) scale(0.82 1)">***</text>
<ellipse cx="591.15" cy="322.21" rx="13.03" ry="11.84" fill="rgb(255,230,230)" transform="rotate(-45 591.15 322.21)"/>
<text class="s" transform="translate(591.15 329.41) scale(0.82 1)">***</text>
<ellipse cx="424.92" cy="349.89" rx="11.07" ry="13.69" fill="rgb(199,199,234)" transform="rotate(-45 424.92 349.89)"/>
<text class="s" transform="translate(424.92 357.09) scale(0.82 1)">***</text>
<ellipse cx="452.62" cy="349.89" rx="11.53" ry="13.31" fill="rgb(215,215,240)" transform="rotate(-45 452.62 349.89)"/>
<text class="s" transform="translate(452.62 357.09) scale(0.82 1)">***</text>
<ellipse cx="480.33" cy="349.89" rx="11.21" ry="13.58" fill="rgb(199,199,234)" transform="rotate(-45 480.33 349.89)"/>
<text class="s" transform="translate(480.33 357.09) scale(0.82 1)">***</text>
<ellipse cx="508.03" cy="349.89" rx="11.84" ry="13.03" fill="rgb(223,223,243)" transform="rotate(-45 508.03 349.89)"/>
<text class="s" transform="translate(508.03 357.09) scale(0.82 1)">***</text>
<ellipse cx="535.74" cy="349.89" rx="11.07" ry="13.69" fill="rgb(199,199,234)" transform="rotate(-45 535.74 349.89)"/>
<text class="s" transform="translate(535.74 357.09) scale(0.82 1)">***</text>
<ellipse cx="563.44" cy="349.89" rx="12.57" ry="12.33" fill="rgb(255,255,255)" transform="rotate(-45 563.44 349.89)"/>
<ellipse cx="591.15" cy="349.89" rx="13.08" ry="11.78" fill="rgb(255,230,230)" transform="rotate(-45 591.15 349.89)"/>
<text class="s" transform="translate(591.15 357.09) scale(0.82 1)">***</text>
<ellipse cx="452.62" cy="377.56" rx="16.52" ry="6.10" fill="rgb(255,49,49)" transform="rotate(-45 452.62 377.56)"/>
<text class="s" transform="translate(452.62 384.76) scale(0.82 1)">***</text>
<ellipse cx="480.33" cy="377.56" rx="15.97" ry="7.41" fill="rgb(255,82,82)" transform="rotate(-45 480.33 377.56)"/>
<text class="s" transform="translate(480.33 384.76) scale(0.82 1)">***</text>
<ellipse cx="508.03" cy="377.56" rx="12.51" ry="12.39" fill="rgb(255,255,255)" transform="rotate(-45 508.03 377.56)"/>
<ellipse cx="535.74" cy="377.56" rx="14.63" ry="9.80" fill="rgb(255,156,156)" transform="rotate(-45 535.74 377.56)"/>
<text class="s" transform="translate(535.74 384.76) scale(0.82 1)">***</text>
<ellipse cx="563.44" cy="377.56" rx="12.43" ry="12.47" fill="rgb(247,247,252)" transform="rotate(-45 563.44 377.56)"/>
<ellipse cx="591.15" cy="377.56" rx="12.63" ry="12.27" fill="rgb(255,247,247)" transform="rotate(-45 591.15 377.56)"/>
<ellipse cx="480.33" cy="405.24" rx="15.60" ry="8.16" fill="rgb(255,99,99)" transform="rotate(-45 480.33 405.24)"/>
<text class="s" transform="translate(480.33 412.44) scale(0.82 1)">***</text>
<ellipse cx="508.03" cy="405.24" rx="12.57" ry="12.33" fill="rgb(255,247,247)" transform="rotate(-45 508.03 405.24)"/>
<ellipse cx="535.74" cy="405.24" rx="12.57" ry="12.33" fill="rgb(255,255,255)" transform="rotate(-45 535.74 405.24)"/>
<ellipse cx="563.44" cy="405.24" rx="12.43" ry="12.47" fill="rgb(247,247,252)" transform="rotate(-45 563.44 405.24)"/>
<ellipse cx="591.15" cy="405.24" rx="12.80" ry="12.09" fill="rgb(255,247,247)" transform="rotate(-45 591.15 405.24)"/>
<text class="s" transform="translate(591.15 412.44) scale(0.82 1)">**</text>
<ellipse cx="508.03" cy="432.91" rx="12.57" ry="12.33" fill="rgb(255,255,255)" transform="rotate(-45 508.03 432.91)"/>
<ellipse cx="535.74" cy="432.91" rx="14.88" ry="9.42" fill="rgb(255,140,140)" transform="rotate(-45 535.74 432.91)"/>
<text class="s" transform="translate(535.74 440.11) scale(0.82 1)">***</text>
<ellipse cx="563.44" cy="432.91" rx="12.21" ry="12.68" fill="rgb(239,239,249)" transform="rotate(-45 563.44 432.91)"/>
<ellipse cx="591.15" cy="432.91" rx="12.43" ry="12.47" fill="rgb(247,247,252)" transform="rotate(-45 591.15 432.91)"/>
<ellipse cx="535.74" cy="460.59" rx="12.74" ry="12.15" fill="rgb(255,247,247)" transform="rotate(-45 535.74 460.59)"/>
<text class="s" transform="translate(535.74 467.79) scale(0.82 1)">*</text>
<ellipse cx="563.44" cy="460.59" rx="14.78" ry="9.58" fill="rgb(255,148,148)" transform="rotate(-45 563.44 460.59)"/>
<text class="s" transform="translate(563.44 467.79) scale(0.82 1)">***</text>
<ellipse cx="591.15" cy="460.59" rx="9.34" ry="14.92" fill="rgb(135,135,210)" transform="rotate(-45 591.15 460.59)"/>
<text class="s" transform="translate(591.15 467.79) scale(0.82 1)">***</text>
<ellipse cx="563.44" cy="488.26" rx="12.21" ry="12.68" fill="rgb(239,239,249)" transform="rotate(-45 563.44 488.26)"/>
<ellipse cx="591.15" cy="488.26" rx="12.33" ry="12.57" fill="rgb(247,247,252)" transform="rotate(-45 591.15 488.26)"/>
<ellipse cx="591.15" cy="515.94" rx="8.77" ry="15.27" fill="rgb(120,120,205)" transform="rotate(-45 591.15 515.94)"/>
<text class="s" transform="translate(591.15 523.14) scale(0.82 1)">***</text>
<text class="n" transform="translate(64.15 49.76) scale(0.875 1)" fill="#066806" stroke="#066806">0.12</text>
<text class="n" transform="translate(64.15 77.44) scale(0.875 1)" fill="#d8ea7e" stroke="#d8ea7e">-0.43</text>
<text class="n" transform="translate(91.86 77.44) scale(0.875 1)" fill="#96c350" stroke="#96c350">-0.08</text>
<text class="n" transform="translate(64.15 105.11) scale(0.875 1)" fill="#066806" stroke="#066806">-0.22</text>
<text class="n" transform="translate(91.86 105.11) scale(0.875 1)" fill="#d8ea7e" stroke="#d8ea7e">-0.10</text>
<text class="n" transform="translate(119.56 105.11) scale(0.875 1)" fill="#d8ea7e" stroke="#d8ea7e">-0.26</text>
<text class="n" transform="translate(64.15 132.79) scale(0.875 1)" fill="#6e410a" stroke="#6e410a">-0.03</text>
<text class="n" transform="translate(91.86 132.79) scale(0.875 1)" fill="#4b962d" stroke="#4b962d">-0.07</text>
<text class="n" transform="translate(119.56 132.79) scale(0.875 1)" fill="#066806" stroke="#066806">-0.53</text>
<text class="n" transform="translate(147.27 132.79) scale(0.875 1)" fill="#d8ea7e" stroke="#d8ea7e">0.05</text>
<text class="n" transform="translate(64.15 160.46) scale(0.875 1)" fill="#6e410a" stroke="#6e410a">-0.03</text>
<text class="n" transform="translate(91.86 160.46) scale(0.875 1)" fill="#6e410a" stroke="#6e410a">-0.03</text>
<text class="n" transform="translate(119.56 160.46) scale(0.875 1)" fill="#2f7d26" stroke="#2f7d26">-0.21</text>
<text class="n" transform="translate(147.27 160.46) scale(0.875 1)" fill="#6e410a" stroke="#6e410a">-0.03</text>
<text class="n" transform="translate(174.97 160.46) scale(0.875 1)" fill="#6e410a" stroke="#6e410a">0.30</text>
<text class="n" transform="translate(64.15 188.14) scale(0.875 1)" fill="#96c350" stroke="#96c350">0.24</text>
<text class="n" transform="translate(91.86 188.14) scale(0.875 1)" fill="#d8ea7e" stroke="#d8ea7e">-0.11</text>
<text class="n" transform="translate(119.56 188.14) scale(0.875 1)" fill="#c86914" stroke="#c86914">0.30</text>
<text class="n" transform="translate(147.27 188.14) scale(0.875 1)" fill="#066806" stroke="#066806">0.11</text>
<text class="n" transform="translate(174.97 188.14) scale(0.875 1)" fill="#4b962d" stroke="#4b962d">0.09</text>
<text class="n" transform="translate(202.68 188.14) scale(0.875 1)" fill="#066806" stroke="#066806">0.11</text>
<text class="n" transform="translate(64.15 215.81) scale(0.875 1)" fill="#4b962d" stroke="#4b962d">0.24</text>
<text class="n" transform="translate(91.86 215.81) scale(0.875 1)" fill="#066806" stroke="#066806">-0.05</text>
<text class="n" transform="translate(119.56 215.81) scale(0.875 1)" fill="#4b962d" stroke="#4b962d">-0.39</text>
<text class="n" transform="translate(147.27 215.81) scale(0.875 1)" fill="#96c350" stroke="#96c350">0.06</text>
<text class="n" transform="translate(174.97 215.81) scale(0.875 1)" fill="#6e410a" stroke="#6e410a">0.29</text>
<text class="n" transform="translate(202.68 215.81) scale(0.875 1)" fill="#c86914" stroke="#c86914">0.16</text>
<text class="n" transform="translate(230.38 215.81) scale(0.875 1)" fill="#fb8d1c" stroke="#fb8d1c">0.01</text>
<text class="n" transform="translate(64.15 243.49) scale(0.875 1)" fill="#fb8d1c" stroke="#fb8d1c">0.01</text>
<text class="n" transform="translate(91.86 243.49) scale(0.875 1)" fill="#d8ea7e" stroke="#d8ea7e">0.06</text>
<text class="n" transform="translate(119.56 243.49) scale(0.875 1)" fill="#96c350" stroke="#96c350">0.06</text>
<text class="n" transform="translate(147.27 243.49) scale(0.875 1)" fill="#066806" stroke="#066806">-0.22</text>
<text class="n" transform="translate(174.97 243.49) scale(0.875 1)" fill="#96c350" stroke="#96c350">-0.10</text>
<text class="n" transform="translate(202.68 243.49) scale(0.875 1)" fill="#96c350" stroke="#96c350">-0.24</text>
<text class="n" transform="translate(230.38 243.49) scale(0.875 1)" fill="#4b962d" stroke="#4b962d">-0.23</text>
<text class="n" transform="translate(258.09 243.49) scale(0.875 1)" fill="#6e410a" stroke="#6e410a">-0.19</text>
<text class="n" transform="translate(64.15 271.16) scale(0.875 1)" fill="#fb8d1c" stroke="#fb8d1c">0.02</text>
<text class="n" transform="translate(91.86 271.16) scale(0.875 1)" fill="#fad45f" stroke="#fad45f">0.03</text>
<text class="n" transform="translate(119.56 271.16) scale(0.875 1)" fill="#d8ea7e" stroke="#d8ea7e">0.04</text>
<text class="n" transform="translate(147.27 271.16) scale(0.875 1)" fill="#4b962d" stroke="#4b962d">0.08</text>
<text class="n" transform="translate(174.97 271.16) scale(0.875 1)" fill="#96c350" stroke="#96c350">-0.09</text>
<text class="n" transform="translate(202.68 271.16) scale(0.875 1)" fill="#c86914" stroke="#c86914">0.16</text>
<text class="n" transform="translate(230.38 271.16) scale(0.875 1)" fill="#4b962d" stroke="#4b962d">0.25</text>
<text class="n" transform="translate(258.09 271.16) scale(0.875 1)" fill="#066806" stroke="#066806">-0.21</text>
<text class="n" transform="translate(285.79 271.16) scale(0.875 1)" fill="#fad45f" stroke="#fad45f">-0.78</text>
<text class="n" transform="translate(64.15 298.84) scale(0.875 1)" fill="#54350c" stroke="#54350c">0.13</text>
<text class="n" transform="translate(91.86 298.84) scale(0.875 1)" fill="#d8ea7e" stroke="#d8ea7e">0.21</text>
<text class="n" transform="translate(119.56 298.84) scale(0.875 1)" fill="#96c350" stroke="#96c350">-0.08</text>
<text class="n" transform="translate(147.27 298.84) scale(0.875 1)" fill="#96c350" stroke="#96c350">0.08</text>
<text class="n" transform="translate(174.97 298.84) scale(0.875 1)" fill="#066806" stroke="#066806">-0.06</text>
<text class="n" transform="translate(202.68 298.84) scale(0.875 1)" fill="#c86914" stroke="#c86914">0.16</text>
<text class="n" transform="translate(230.38 298.84) scale(0.875 1)" fill="#96c350" stroke="#96c350">0.22</text>
<text class="n" transform="translate(258.09 298.84) scale(0.875 1)" fill="#fb8d1c" stroke="#fb8d1c">0.01</text>
<text class="n" transform="translate(285.79 298.84) scale(0.875 1)" fill="#fb8d1c" stroke="#fb8d1c">-0.64</text>
<text class="n" transform="translate(313.50 298.84) scale(0.875 1)" fill="#fb8d1c" stroke="#fb8d1c">0.80</text>
<text class="n" transform="translate(64.15 326.51) scale(0.875 1)" fill="#4b962d" stroke="#4b962d">0.09</text>
<text class="n" transform="translate(91.86 326.51) scale(0.875 1)" fill="#fb8d1c" stroke="#fb8d1c">0.02</text>
<text class="n" transform="translate(119.56 326.51) scale(0.875 1)" fill="#d8ea7e" stroke="#d8ea7e">0.06</text>
<text class="n" transform="translate(147.27 326.51) scale(0.875 1)" fill="#4b962d" stroke="#4b962d">-0.08</text>
<text class="n" transform="translate(174.97 326.51) scale(0.875 1)" fill="#4b962d" stroke="#4b962d">-0.08</text>
<text class="n" transform="translate(202.68 326.51) scale(0.875 1)" fill="#96c350" stroke="#96c350">0.08</text>
<text class="n" transform="translate(230.38 326.51) scale(0.875 1)" fill="#d8ea7e" stroke="#d8ea7e">0.20</text>
<text class="n" transform="translate(258.09 326.51) scale(0.875 1)" fill="#6e410a" stroke="#6e410a">-0.18</text>
<text class="n" transform="translate(285.79 326.51) scale(0.875 1)" fill="#c86914" stroke="#c86914">-0.49</text>
<text class="n" transform="translate(313.50 326.51) scale(0.875 1)" fill="#fad45f" stroke="#fad45f">0.68</text>
<text class="n" transform="translate(341.20 326.51) scale(0.875 1)" fill="#d8ea7e" stroke="#d8ea7e">0.70</text>
<text class="n" transform="translate(64.15 354.19) scale(0.875 1)" fill="#c86914" stroke="#c86914">-0.01</text>
<text class="n" transform="translate(91.86 354.19) scale(0.875 1)" fill="#2f7d26" stroke="#2f7d26">-0.07</text>
<text class="n" transform="translate(119.56 354.19) scale(0.875 1)" fill="#fb8d1c" stroke="#fb8d1c">0.01</text>
<text class="n" transform="translate(147.27 354.19) scale(0.875 1)" fill="#c86914" stroke="#c86914">-0.17</text>
<text class="n" transform="translate(174.97 354.19) scale(0.875 1)" fill="#96c350" stroke="#96c350">-0.10</text>
<text class="n" transform="translate(202.68 354.19) scale(0.875 1)" fill="#96c350" stroke="#96c350">-0.09</text>
<text class="n" transform="translate(230.38 354.19) scale(0.875 1)" fill="#2f7d26" stroke="#2f7d26">-0.07</text>
<text class="n" transform="translate(258.09 354.19) scale(0.875 1)" fill="#d8ea7e" stroke="#d8ea7e">-0.11</text>
<text class="n" transform="translate(285.79 354.19) scale(0.875 1)" fill="#066806" stroke="#066806">-0.04</text>
<text class="n" transform="translate(313.50 354.19) scale(0.875 1)" fill="#d8ea7e" stroke="#d8ea7e">0.21</text>
<text class="n" transform="translate(341.20 354.19) scale(0.875 1)" fill="#c86914" stroke="#c86914">0.16</text>
<text class="n" transform="translate(368.91 354.19) scale(0.875 1)" fill="#6e410a" stroke="#6e410a">0.12</text>
<text class="n" transform="translate(64.15 381.86) scale(0.875 1)" fill="#066806" stroke="#066806">-0.04</text>
<text class="n" transform="translate(91.86 381.86) scale(0.875 1)" fill="#c86914" stroke="#c86914">-0.17</text>
<text class="n" transform="translate(119.56 381.86) scale(0.875 1)" fill="#d8ea7e" stroke="#d8ea7e">0.05</text>
<text class="n" transform="translate(147.27 381.86) scale(0.875 1)" fill="#4b962d" stroke="#4b962d">0.09</text>
<text class="n" transform="translate(174.97 381.86) scale(0.875 1)" fill="#fad45f" stroke="#fad45f">-0.13</text>
<text class="n" transform="translate(202.68 381.86) scale(0.875 1)" fill="#fad45f" stroke="#fad45f">-0.13</text>
<text class="n" transform="translate(230.38 381.86) scale(0.875 1)" fill="#2f7d26" stroke="#2f7d26">-0.08</text>
<text class="n" transform="translate(258.09 381.86) scale(0.875 1)" fill="#2f7d26" stroke="#2f7d26">0.25</text>
<text class="n" transform="translate(285.79 381.86) scale(0.875 1)" fill="#fb8d1c" stroke="#fb8d1c">0.00</text>
<text class="n" transform="translate(313.50 381.86) scale(0.875 1)" fill="#96c350" stroke="#96c350">-0.08</text>
<text class="n" transform="translate(341.20 381.86) scale(0.875 1)" fill="#4b962d" stroke="#4b962d">-0.07</text>
<text class="n" transform="translate(368.91 381.86) scale(0.875 1)" fill="#d8ea7e" stroke="#d8ea7e">-0.11</text>
<text class="n" transform="translate(396.61 381.86) scale(0.875 1)" fill="#4b962d" stroke="#4b962d">-0.22</text>
<text class="n" transform="translate(64.15 409.54) scale(0.875 1)" fill="#6e410a" stroke="#6e410a">-0.03</text>
<text class="n" transform="translate(91.86 409.54) scale(0.875 1)" fill="#fad45f" stroke="#fad45f">-0.12</text>
<text class="n" transform="translate(119.56 409.54) scale(0.875 1)" fill="#54350c" stroke="#54350c">0.13</text>
<text class="n" transform="translate(147.27 409.54) scale(0.875 1)" fill="#066806" stroke="#066806">-0.05</text>
<text class="n" transform="translate(174.97 409.54) scale(0.875 1)" fill="#d8ea7e" stroke="#d8ea7e">-0.11</text>
<text class="n" transform="translate(202.68 409.54) scale(0.875 1)" fill="#96c350" stroke="#96c350">-0.10</text>
<text class="n" transform="translate(230.38 409.54) scale(0.875 1)" fill="#c86914" stroke="#c86914">-0.02</text>
<text class="n" transform="translate(258.09 409.54) scale(0.875 1)" fill="#fad45f" stroke="#fad45f">0.19</text>
<text class="n" transform="translate(285.79 409.54) scale(0.875 1)" fill="#fb8d1c" stroke="#fb8d1c">0.01</text>
<text class="n" transform="translate(313.50 409.54) scale(0.875 1)" fill="#96c350" stroke="#96c350">-0.08</text>
<text class="n" transform="translate(341.20 409.54) scale(0.875 1)" fill="#fb8d1c" stroke="#fb8d1c">0.00</text>
<text class="n" transform="translate(368.91 409.54) scale(0.875 1)" fill="#54350c" stroke="#54350c">-0.02</text>
<text class="n" transform="translate(396.61 409.54) scale(0.875 1)" fill="#fb8d1c" stroke="#fb8d1c">-0.15</text>
<text class="n" transform="translate(424.32 409.54) scale(0.875 1)" fill="#c86914" stroke="#c86914">0.80</text>
<text class="n" transform="translate(64.15 437.21) scale(0.875 1)" fill="#96c350" stroke="#96c350">-0.08</text>
<text class="n" transform="translate(91.86 437.21) scale(0.875 1)" fill="#c86914" stroke="#c86914">-0.17</text>
<text class="n" transform="translate(119.56 437.21) scale(0.875 1)" fill="#54350c" stroke="#54350c">0.14</text>
<text class="n" transform="translate(147.27 437.21) scale(0.875 1)" fill="#4b962d" stroke="#4b962d">0.08</text>
<text class="n" transform="translate(174.97 437.21) scale(0.875 1)" fill="#fad45f" stroke="#fad45f">-0.13</text>
<text class="n" transform="translate(202.68 437.21) scale(0.875 1)" fill="#fad45f" stroke="#fad45f">-0.13</text>
<text class="n" transform="translate(230.38 437.21) scale(0.875 1)" fill="#96c350" stroke="#96c350">-0.09</text>
<text class="n" transform="translate(258.09 437.21) scale(0.875 1)" fill="#fb8d1c" stroke="#fb8d1c">0.18</text>
<text class="n" transform="translate(285.79 437.21) scale(0.875 1)" fill="#d8ea7e" stroke="#d8ea7e">-0.12</text>
<text class="n" transform="translate(313.50 437.21) scale(0.875 1)" fill="#066806" stroke="#066806">-0.08</text>
<text class="n" transform="translate(341.20 437.21) scale(0.875 1)" fill="#066806" stroke="#066806">-0.06</text>
<text class="n" transform="translate(368.91 437.21) scale(0.875 1)" fill="#96c350" stroke="#96c350">-0.09</text>
<text class="n" transform="translate(396.61 437.21) scale(0.875 1)" fill="#6e410a" stroke="#6e410a">-0.20</text>
<text class="n" transform="translate(424.32 437.21) scale(0.875 1)" fill="#d8ea7e" stroke="#d8ea7e">0.68</text>
<text class="n" transform="translate(452.02 437.21) scale(0.875 1)" fill="#066806" stroke="#066806">0.60</text>
<text class="n" transform="translate(64.15 464.89) scale(0.875 1)" fill="#4b962d" stroke="#4b962d">-0.06</text>
<text class="n" transform="translate(91.86 464.89) scale(0.875 1)" fill="#4b962d" stroke="#4b962d">0.09</text>
<text class="n" transform="translate(119.56 464.89) scale(0.875 1)" fill="#54350c" stroke="#54350c">-0.03</text>
<text class="n" transform="translate(147.27 464.89) scale(0.875 1)" fill="#d8ea7e" stroke="#d8ea7e">0.04</text>
<text class="n" transform="translate(174.97 464.89) scale(0.875 1)" fill="#54350c" stroke="#54350c">-0.04</text>
<text class="n" transform="translate(202.68 464.89) scale(0.875 1)" fill="#54350c" stroke="#54350c">0.13</text>
<text class="n" transform="translate(230.38 464.89) scale(0.875 1)" fill="#066806" stroke="#066806">-0.06</text>
<text class="n" transform="translate(258.09 464.89) scale(0.875 1)" fill="#fb8d1c" stroke="#fb8d1c">0.16</text>
<text class="n" transform="translate(285.79 464.89) scale(0.875 1)" fill="#54350c" stroke="#54350c">-0.03</text>
<text class="n" transform="translate(313.50 464.89) scale(0.875 1)" fill="#066806" stroke="#066806">-0.05</text>
<text class="n" transform="translate(341.20 464.89) scale(0.875 1)" fill="#c86914" stroke="#c86914">-0.00</text>
<text class="n" transform="translate(368.91 464.89) scale(0.875 1)" fill="#d8ea7e" stroke="#d8ea7e">-0.10</text>
<text class="n" transform="translate(396.61 464.89) scale(0.875 1)" fill="#96c350" stroke="#96c350">-0.10</text>
<text class="n" transform="translate(424.32 464.89) scale(0.875 1)" fill="#fb8d1c" stroke="#fb8d1c">0.01</text>
<text class="n" transform="translate(452.02 464.89) scale(0.875 1)" fill="#fad45f" stroke="#fad45f">0.02</text>
<text class="n" transform="translate(479.73 464.89) scale(0.875 1)" fill="#fb8d1c" stroke="#fb8d1c">0.02</text>
<text class="n" transform="translate(64.15 492.56) scale(0.875 1)" fill="#fad45f" stroke="#fad45f">-0.14</text>
<text class="n" transform="translate(91.86 492.56) scale(0.875 1)" fill="#fb8d1c" stroke="#fb8d1c">-0.16</text>
<text class="n" transform="translate(119.56 492.56) scale(0.875 1)" fill="#fb8d1c" stroke="#fb8d1c">0.16</text>
<text class="n" transform="translate(147.27 492.56) scale(0.875 1)" fill="#fad45f" stroke="#fad45f">0.04</text>
<text class="n" transform="translate(174.97 492.56) scale(0.875 1)" fill="#96c350" stroke="#96c350">-0.10</text>
<text class="n" transform="translate(202.68 492.56) scale(0.875 1)" fill="#fad45f" stroke="#fad45f">-0.13</text>
<text class="n" transform="translate(230.38 492.56) scale(0.875 1)" fill="#54350c" stroke="#54350c">-0.03</text>
<text class="n" transform="translate(258.09 492.56) scale(0.875 1)" fill="#54350c" stroke="#54350c">0.14</text>
<text class="n" transform="translate(285.79 492.56) scale(0.875 1)" fill="#d8ea7e" stroke="#d8ea7e">0.06</text>
<text class="n" transform="translate(313.50 492.56) scale(0.875 1)" fill="#066806" stroke="#066806">-0.21</text>
<text class="n" transform="translate(341.20 492.56) scale(0.875 1)" fill="#96c350" stroke="#96c350">-0.25</text>
<text class="n" transform="translate(368.91 492.56) scale(0.875 1)" fill="#d8ea7e" stroke="#d8ea7e">-0.26</text>
<text class="n" transform="translate(396.61 492.56) scale(0.875 1)" fill="#2f7d26" stroke="#2f7d26">-0.22</text>
<text class="n" transform="translate(424.32 492.56) scale(0.875 1)" fill="#96c350" stroke="#96c350">0.40</text>
<text class="n" transform="translate(452.02 492.56) scale(0.875 1)" fill="#fb8d1c" stroke="#fb8d1c">0.02</text>
<text class="n" transform="translate(479.73 492.56) scale(0.875 1)" fill="#6e410a" stroke="#6e410a">0.45</text>
<text class="n" transform="translate(507.43 492.56) scale(0.875 1)" fill="#d8ea7e" stroke="#d8ea7e">0.05</text>
<text class="n" transform="translate(64.15 520.24) scale(0.875 1)" fill="#6e410a" stroke="#6e410a">-0.03</text>
<text class="n" transform="translate(91.86 520.24) scale(0.875 1)" fill="#c86914" stroke="#c86914">-0.01</text>
<text class="n" transform="translate(119.56 520.24) scale(0.875 1)" fill="#4b962d" stroke="#4b962d">0.10</text>
<text class="n" transform="translate(147.27 520.24) scale(0.875 1)" fill="#066806" stroke="#066806">0.11</text>
<text class="n" transform="translate(174.97 520.24) scale(0.875 1)" fill="#066806" stroke="#066806">-0.21</text>
<text class="n" transform="translate(202.68 520.24) scale(0.875 1)" fill="#4b962d" stroke="#4b962d">-0.07</text>
<text class="n" transform="translate(230.38 520.24) scale(0.875 1)" fill="#fb8d1c" stroke="#fb8d1c">0.01</text>
<text class="n" transform="translate(258.09 520.24) scale(0.875 1)" fill="#066806" stroke="#066806">-0.05</text>
<text class="n" transform="translate(285.79 520.24) scale(0.875 1)" fill="#c86914" stroke="#c86914">0.16</text>
<text class="n" transform="translate(313.50 520.24) scale(0.875 1)" fill="#4b962d" stroke="#4b962d">-0.08</text>
<text class="n" transform="translate(341.20 520.24) scale(0.875 1)" fill="#96c350" stroke="#96c350">-0.10</text>
<text class="n" transform="translate(368.91 520.24) scale(0.875 1)" fill="#fad45f" stroke="#fad45f">-0.12</text>
<text class="n" transform="translate(396.61 520.24) scale(0.875 1)" fill="#fb8d1c" stroke="#fb8d1c">0.02</text>
<text class="n" transform="translate(424.32 520.24) scale(0.875 1)" fill="#c86914" stroke="#c86914">-0.00</text>
<text class="n" transform="translate(452.02 520.24) scale(0.875 1)" fill="#c86914" stroke="#c86914">-0.00</text>
<text class="n" transform="translate(479.73 520.24) scale(0.875 1)" fill="#6e410a" stroke="#6e410a">-0.04</text>
<text class="n" transform="translate(507.43 520.24) scale(0.875 1)" fill="#066806" stroke="#066806">0.43</text>
<text class="n" transform="translate(535.14 520.24) scale(0.875 1)" fill="#066806" stroke="#066806">-0.04</text>
<text class="n" transform="translate(64.15 547.91) scale(0.875 1)" fill="#c86914" stroke="#c86914">-0.01</text>
<text class="n" transform="translate(91.86 547.91) scale(0.875 1)" fill="#d8ea7e" stroke="#d8ea7e">0.04</text>
<text class="n" transform="translate(119.56 547.91) scale(0.875 1)" fill="#54350c" stroke="#54350c">-0.03</text>
<text class="n" transform="translate(147.27 547.91) scale(0.875 1)" fill="#96c350" stroke="#96c350">-0.10</text>
<text class="n" transform="translate(174.97 547.91) scale(0.875 1)" fill="#c86914" stroke="#c86914">-0.01</text>
<text class="n" transform="translate(202.68 547.91) scale(0.875 1)" fill="#fad45f" stroke="#fad45f">0.03</text>
<text class="n" transform="translate(230.38 547.91) scale(0.875 1)" fill="#54350c" stroke="#54350c">-0.03</text>
<text class="n" transform="translate(258.09 547.91) scale(0.875 1)" fill="#c86914" stroke="#c86914">-0.01</text>
<text class="n" transform="translate(285.79 547.91) scale(0.875 1)" fill="#d8ea7e" stroke="#d8ea7e">0.06</text>
<text class="n" transform="translate(313.50 547.91) scale(0.875 1)" fill="#d8ea7e" stroke="#d8ea7e">0.06</text>
<text class="n" transform="translate(341.20 547.91) scale(0.875 1)" fill="#4b962d" stroke="#4b962d">0.10</text>
<text class="n" transform="translate(368.91 547.91) scale(0.875 1)" fill="#066806" stroke="#066806">0.10</text>
<text class="n" transform="translate(396.61 547.91) scale(0.875 1)" fill="#066806" stroke="#066806">0.11</text>
<text class="n" transform="translate(424.32 547.91) scale(0.875 1)" fill="#fad45f" stroke="#fad45f">0.03</text>
<text class="n" transform="translate(452.02 547.91) scale(0.875 1)" fill="#96c350" stroke="#96c350">0.06</text>
<text class="n" transform="translate(479.73 547.91) scale(0.875 1)" fill="#c86914" stroke="#c86914">-0.00</text>
<text class="n" transform="translate(507.43 547.91) scale(0.875 1)" fill="#fad45f" stroke="#fad45f">-0.46</text>
<text class="n" transform="translate(535.14 547.91) scale(0.875 1)" fill="#6e410a" stroke="#6e410a">-0.02</text>
<text class="n" transform="translate(562.84 547.91) scale(0.875 1)" fill="#066806" stroke="#066806">-0.53</text>
<text class="d" transform="translate(65.15 18.19) rotate(-45) scale(0.875 1)" x="0" y="3.3">W/B</text>
<text class="d" transform="translate(92.86 45.86) rotate(-45) scale(0.875 1)" x="0" y="3.3">AEA</text>
<text class="d" transform="translate(120.56 73.54) rotate(-45) scale(0.875 1)" x="0" y="3.3">C</text>
<text class="d" transform="translate(148.27 101.21) rotate(-45) scale(0.875 1)" x="0" y="3.3">FA</text>
<text class="d" transform="translate(175.97 128.89) rotate(-45) scale(0.875 1)" x="0" y="3.3">S</text>
<text class="d" transform="translate(203.68 156.56) rotate(-45) scale(0.875 1)" x="0" y="3.3">SF</text>
<text class="d" transform="translate(231.38 184.24) rotate(-45) scale(0.875 1)" x="0" y="3.3">W</text>
<text class="d" transform="translate(259.09 211.91) rotate(-45) scale(0.875 1)" x="0" y="3.3">FAg</text>
<text class="d" transform="translate(286.79 239.59) rotate(-45) scale(0.875 1)" x="0" y="3.3">NA</text>
<text class="d" transform="translate(314.50 267.26) rotate(-45) scale(0.875 1)" x="0" y="3.3">RCA</text>
<text class="d" transform="translate(342.20 294.94) rotate(-45) scale(0.875 1)" x="0" y="3.3">DPS</text>
<text class="d" transform="translate(369.91 322.61) rotate(-45) scale(0.875 1)" x="0" y="3.3">WA</text>
<text class="d" transform="translate(397.61 350.29) rotate(-45) scale(0.875 1)" x="0" y="3.3">NS</text>
<text class="d" transform="translate(425.32 377.96) rotate(-45) scale(0.875 1)" x="0" y="3.3">LF</text>
<text class="d" transform="translate(453.02 405.64) rotate(-45) scale(0.875 1)" x="0" y="3.3">DF</text>
<text class="d" transform="translate(480.73 433.31) rotate(-45) scale(0.875 1)" x="0" y="3.3">VF</text>
<text class="d" transform="translate(508.43 460.99) rotate(-45) scale(0.875 1)" x="0" y="3.3">NOC</text>
<text class="d" transform="translate(536.14 488.66) rotate(-45) scale(0.875 1)" x="0" y="3.3">FT</text>
<text class="d" transform="translate(563.84 516.34) rotate(-45) scale(0.875 1)" x="0" y="3.3">MLR</text>
<text class="d" transform="translate(591.55 544.01) rotate(-45) scale(0.875 1)" x="0" y="3.3">RDME</text>
<rect x="50.95" y="4.15" width="553.9" height="553.05" fill="none" stroke="#000" stroke-width="2"/>
<text class="yl" transform="translate(39.4 21.99) scale(0.915 1)">W/B</text>
<text class="yl" transform="translate(39.4 49.66) scale(0.915 1)">AEA</text>
<text class="yl" transform="translate(39.4 77.34) scale(0.915 1)">C</text>
<text class="yl" transform="translate(39.4 105.01) scale(0.915 1)">FA</text>
<text class="yl" transform="translate(39.4 132.69) scale(0.915 1)">S</text>
<text class="yl" transform="translate(39.4 160.36) scale(0.915 1)">SF</text>
<text class="yl" transform="translate(39.4 188.04) scale(0.915 1)">W</text>
<text class="yl" transform="translate(39.4 215.71) scale(0.915 1)">FAg</text>
<text class="yl" transform="translate(39.4 243.39) scale(0.915 1)">NA</text>
<text class="yl" transform="translate(39.4 271.06) scale(0.915 1)">RCA</text>
<text class="yl" transform="translate(39.4 298.74) scale(0.915 1)">DPS</text>
<text class="yl" transform="translate(39.4 326.41) scale(0.915 1)">WA</text>
<text class="yl" transform="translate(39.4 354.09) scale(0.915 1)">NS</text>
<text class="yl" transform="translate(39.4 381.76) scale(0.915 1)">LF</text>
<text class="yl" transform="translate(39.4 409.44) scale(0.915 1)">DF</text>
<text class="yl" transform="translate(39.4 437.11) scale(0.915 1)">VF</text>
<text class="yl" transform="translate(39.4 464.79) scale(0.915 1)">NOC</text>
<text class="yl" transform="translate(39.4 492.46) scale(0.915 1)">FT</text>
<text class="yl" transform="translate(39.4 520.14) scale(0.915 1)">MLR</text>
<text class="yl" transform="translate(39.4 547.81) scale(0.915 1)">RDME</text>
<text class="xl" transform="translate(69.65 568.8) rotate(-90) scale(0.905 1)">W/B</text>
<text class="xl" transform="translate(97.36 568.8) rotate(-90) scale(0.905 1)">AEA</text>
<text class="xl" transform="translate(125.06 568.8) rotate(-90) scale(0.905 1)">C</text>
<text class="xl" transform="translate(152.77 568.8) rotate(-90) scale(0.905 1)">FA</text>
<text class="xl" transform="translate(180.47 568.8) rotate(-90) scale(0.905 1)">S</text>
<text class="xl" transform="translate(208.18 568.8) rotate(-90) scale(0.905 1)">SF</text>
<text class="xl" transform="translate(235.88 568.8) rotate(-90) scale(0.905 1)">W</text>
<text class="xl" transform="translate(263.59 568.8) rotate(-90) scale(0.905 1)">FAg</text>
<text class="xl" transform="translate(291.29 568.8) rotate(-90) scale(0.905 1)">NA</text>
<text class="xl" transform="translate(319.00 568.8) rotate(-90) scale(0.905 1)">RCA</text>
<text class="xl" transform="translate(346.70 568.8) rotate(-90) scale(0.905 1)">DPS</text>
<text class="xl" transform="translate(374.41 568.8) rotate(-90) scale(0.905 1)">WA</text>
<text class="xl" transform="translate(402.11 568.8) rotate(-90) scale(0.905 1)">NS</text>
<text class="xl" transform="translate(429.82 568.8) rotate(-90) scale(0.905 1)">LF</text>
<text class="xl" transform="translate(457.52 568.8) rotate(-90) scale(0.905 1)">DF</text>
<text class="xl" transform="translate(485.23 568.8) rotate(-90) scale(0.905 1)">VF</text>
<text class="xl" transform="translate(512.93 568.8) rotate(-90) scale(0.905 1)">NOC</text>
<text class="xl" transform="translate(540.64 568.8) rotate(-90) scale(0.905 1)">FT</text>
<text class="xl" transform="translate(568.34 568.8) rotate(-90) scale(0.905 1)">MLR</text>
<text class="xl" transform="translate(596.05 568.8) rotate(-90) scale(0.905 1)">RDME</text>
<text transform="translate(330 617.8) scale(0.875 1)" style="font-size:14.4px;text-anchor:middle;fill:#000;stroke:#000;stroke-width:0.2px;" xml:space="preserve">* p&lt;=0.05  ** p&lt;=0.01  *** p&lt;=0.001</text>
<rect x="624.5" y="3.95" width="26.0" height="9.15" fill="rgb(255,0,0)"/>
<rect x="624.5" y="12.60" width="26.0" height="9.15" fill="rgb(255,8,8)"/>
<rect x="624.5" y="21.25" width="26.0" height="9.15" fill="rgb(255,16,16)"/>
<rect x="624.5" y="29.90" width="26.0" height="9.15" fill="rgb(255,25,25)"/>
<rect x="624.5" y="38.54" width="26.0" height="9.15" fill="rgb(255,33,33)"/>
<rect x="624.5" y="47.19" width="26.0" height="9.15" fill="rgb(255,41,41)"/>
<rect x="624.5" y="55.84" width="26.0" height="9.15" fill="rgb(255,49,49)"/>
<rect x="624.5" y="64.49" width="26.0" height="9.15" fill="rgb(255,58,58)"/>
<rect x="624.5" y="73.14" width="26.0" height="9.15" fill="rgb(255,66,66)"/>
<rect x="624.5" y="81.79" width="26.0" height="9.15" fill="rgb(255,74,74)"/>
<rect x="624.5" y="90.43" width="26.0" height="9.15" fill="rgb(255,82,82)"/>
<rect x="624.5" y="99.08" width="26.0" height="9.15" fill="rgb(255,90,90)"/>
<rect x="624.5" y="107.73" width="26.0" height="9.15" fill="rgb(255,99,99)"/>
<rect x="624.5" y="116.38" width="26.0" height="9.15" fill="rgb(255,107,107)"/>
<rect x="624.5" y="125.03" width="26.0" height="9.15" fill="rgb(255,115,115)"/>
<rect x="624.5" y="133.68" width="26.0" height="9.15" fill="rgb(255,123,123)"/>
<rect x="624.5" y="142.32" width="26.0" height="9.15" fill="rgb(255,132,132)"/>
<rect x="624.5" y="150.97" width="26.0" height="9.15" fill="rgb(255,140,140)"/>
<rect x="624.5" y="159.62" width="26.0" height="9.15" fill="rgb(255,148,148)"/>
<rect x="624.5" y="168.27" width="26.0" height="9.15" fill="rgb(255,156,156)"/>
<rect x="624.5" y="176.92" width="26.0" height="9.15" fill="rgb(255,165,165)"/>
<rect x="624.5" y="185.57" width="26.0" height="9.15" fill="rgb(255,173,173)"/>
<rect x="624.5" y="194.22" width="26.0" height="9.15" fill="rgb(255,181,181)"/>
<rect x="624.5" y="202.86" width="26.0" height="9.15" fill="rgb(255,189,189)"/>
<rect x="624.5" y="211.51" width="26.0" height="9.15" fill="rgb(255,197,197)"/>
<rect x="624.5" y="220.16" width="26.0" height="9.15" fill="rgb(255,206,206)"/>
<rect x="624.5" y="228.81" width="26.0" height="9.15" fill="rgb(255,214,214)"/>
<rect x="624.5" y="237.46" width="26.0" height="9.15" fill="rgb(255,222,222)"/>
<rect x="624.5" y="246.11" width="26.0" height="9.15" fill="rgb(255,230,230)"/>
<rect x="624.5" y="254.75" width="26.0" height="9.15" fill="rgb(255,239,239)"/>
<rect x="624.5" y="263.40" width="26.0" height="9.15" fill="rgb(255,247,247)"/>
<rect x="624.5" y="272.05" width="26.0" height="9.15" fill="rgb(255,255,255)"/>
<rect x="624.5" y="280.70" width="26.0" height="9.15" fill="rgb(247,247,252)"/>
<rect x="624.5" y="289.35" width="26.0" height="9.15" fill="rgb(239,239,249)"/>
<rect x="624.5" y="298.00" width="26.0" height="9.15" fill="rgb(231,231,246)"/>
<rect x="624.5" y="306.65" width="26.0" height="9.15" fill="rgb(223,223,243)"/>
<rect x="624.5" y="315.29" width="26.0" height="9.15" fill="rgb(215,215,240)"/>
<rect x="624.5" y="323.94" width="26.0" height="9.15" fill="rgb(207,207,237)"/>
<rect x="624.5" y="332.59" width="26.0" height="9.15" fill="rgb(199,199,234)"/>
<rect x="624.5" y="341.24" width="26.0" height="9.15" fill="rgb(191,191,231)"/>
<rect x="624.5" y="349.89" width="26.0" height="9.15" fill="rgb(183,183,228)"/>
<rect x="624.5" y="358.54" width="26.0" height="9.15" fill="rgb(175,175,225)"/>
<rect x="624.5" y="367.18" width="26.0" height="9.15" fill="rgb(167,167,222)"/>
<rect x="624.5" y="375.83" width="26.0" height="9.15" fill="rgb(159,159,219)"/>
<rect x="624.5" y="384.48" width="26.0" height="9.15" fill="rgb(151,151,216)"/>
<rect x="624.5" y="393.13" width="26.0" height="9.15" fill="rgb(143,143,213)"/>
<rect x="624.5" y="401.78" width="26.0" height="9.15" fill="rgb(135,135,210)"/>
<rect x="624.5" y="410.43" width="26.0" height="9.15" fill="rgb(128,128,208)"/>
<rect x="624.5" y="419.07" width="26.0" height="9.15" fill="rgb(120,120,205)"/>
<rect x="624.5" y="427.72" width="26.0" height="9.15" fill="rgb(112,112,202)"/>
<rect x="624.5" y="436.37" width="26.0" height="9.15" fill="rgb(104,104,199)"/>
<rect x="624.5" y="445.02" width="26.0" height="9.15" fill="rgb(96,96,196)"/>
<rect x="624.5" y="453.67" width="26.0" height="9.15" fill="rgb(88,88,193)"/>
<rect x="624.5" y="462.32" width="26.0" height="9.15" fill="rgb(80,80,190)"/>
<rect x="624.5" y="470.97" width="26.0" height="9.15" fill="rgb(72,72,187)"/>
<rect x="624.5" y="479.61" width="26.0" height="9.15" fill="rgb(64,64,184)"/>
<rect x="624.5" y="488.26" width="26.0" height="9.15" fill="rgb(56,56,181)"/>
<rect x="624.5" y="496.91" width="26.0" height="9.15" fill="rgb(48,48,178)"/>
<rect x="624.5" y="505.56" width="26.0" height="9.15" fill="rgb(40,40,175)"/>
<rect x="624.5" y="514.21" width="26.0" height="9.15" fill="rgb(32,32,172)"/>
<rect x="624.5" y="522.86" width="26.0" height="9.15" fill="rgb(24,24,169)"/>
<rect x="624.5" y="531.50" width="26.0" height="9.15" fill="rgb(16,16,166)"/>
<rect x="624.5" y="540.15" width="26.0" height="9.15" fill="rgb(8,8,163)"/>
<rect x="624.5" y="548.80" width="26.0" height="9.15" fill="rgb(0,0,160)"/>
<rect x="624.5" y="3.95" width="26.0" height="553.5" fill="none" stroke="#000" stroke-width="1"/>
<text class="cb" transform="translate(659.0 9.15) scale(0.93 1)">1.0</text>
<text class="cb" transform="translate(659.0 64.50) scale(0.93 1)">0.80</text>
<text class="cb" transform="translate(659.0 119.85) scale(0.93 1)">0.60</text>
<text class="cb" transform="translate(659.0 175.20) scale(0.93 1)">0.40</text>
<text class="cb" transform="translate(659.0 230.55) scale(0.93 1)">0.20</text>
<text class="cb" transform="translate(659.0 285.90) scale(0.93 1)">0.0</text>
<text class="cb" transform="translate(659.0 341.25) scale(0.93 1)">-0.20</text>
<text class="cb" transform="translate(659.0 396.60) scale(0.93 1)">-0.40</text>
<text class="cb" transform="translate(659.0 451.95) scale(0.93 1)">-0.60</text>
<text class="cb" transform="translate(659.0 507.30) scale(0.93 1)">-0.80</text>
<text class="cb" transform="translate(659.0 562.65) scale(0.93 1)">-1.0</text>
<path d="M650.5 3.95h3.5M650.5 59.30h3.5M650.5 114.65h3.5M650.5 170.00h3.5M650.5 225.35h3.5M650.5 280.70h3.5M650.5 336.05h3.5M650.5 391.40h3.5M650.5 446.75h3.5M650.5 502.10h3.5M650.5 557.45h3.5" stroke="#000" stroke-width="1" fill="none"/>
</svg>
</body></html>
